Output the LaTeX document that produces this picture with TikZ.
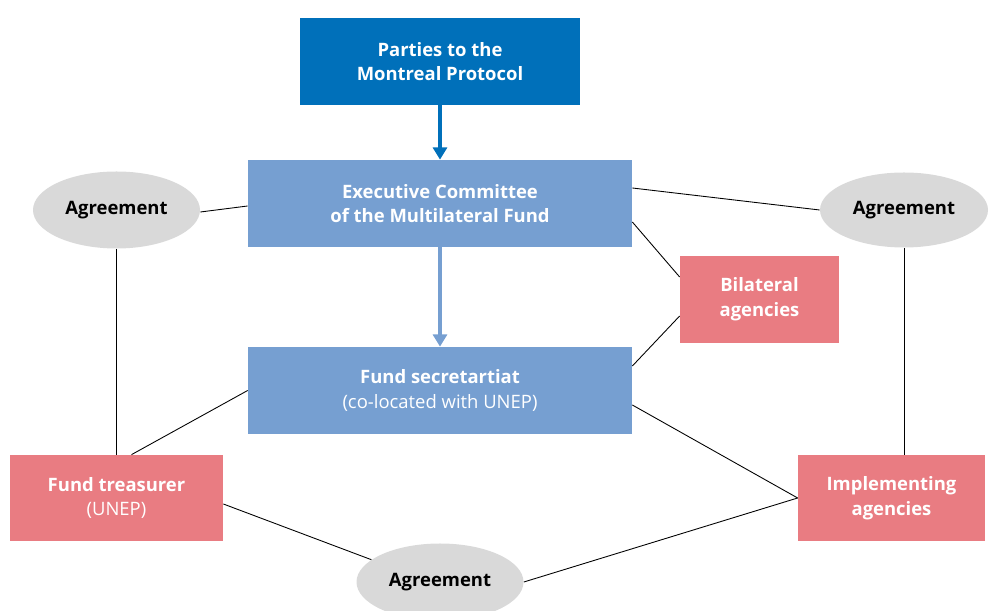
\documentclass[tikz,border=0pt]{standalone}
\usepackage{fontspec}
\setmainfont{Open Sans}
\usetikzlibrary{arrows.meta,shapes.geometric}

\definecolor{mpdark}{HTML}{0070BA}
\definecolor{mplight}{HTML}{769FD1}
\definecolor{mppink}{HTML}{E97C82}
\definecolor{mpgray}{HTML}{D9D9D9}

\tikzset{
    box/.style={minimum height=1.74cm, align=center, text=white, font=\bfseries\fontsize{10.5}{14}\selectfont, inner sep=0pt},
    agreement/.style={ellipse, fill=mpgray, minimum width=3.34cm, minimum height=1.54cm, inner sep=0pt, font=\bfseries\fontsize{10.5}{14}\selectfont},
    link/.style={line width=0.5pt},
}

\begin{document}
\begin{tikzpicture}
    \useasboundingbox (0, 0) rectangle (19.96, -12.22);
    \clip (0, 0) rectangle (19.96, -12.22);

    \node[box, fill=mpdark, minimum width=5.6cm] (parties) at (8.8, -1.23) {Parties to the\\Montreal Protocol};
    \node[box, fill=mplight, minimum width=7.68cm] (excom) at (8.8, -4.07) {Executive Committee\\of the Multilateral Fund};
    \node[box, fill=mplight, minimum width=7.68cm] (secretariat) at (8.8, -7.81) {Fund secretartiat\\\mdseries(co-located with UNEP)};
    \node[box, fill=mppink, minimum width=3.18cm] (bilateral) at (15.19, -5.99) {Bilateral\\agencies};
    \node[box, fill=mppink, minimum width=4.26cm, minimum height=1.72cm] (treasurer) at (2.33, -9.96) {Fund treasurer\\\mdseries(UNEP)};
    \node[box, fill=mppink, minimum width=3.74cm, minimum height=1.72cm] (implementing) at (17.83, -9.96) {Implementing\\agencies};

    \node[agreement] (agrleft) at (2.33, -4.2) {Agreement};
    \node[agreement, minimum width=3.36cm, minimum height=1.5cm] (agrright) at (18.08, -4.2) {Agreement};
    \node[agreement] (agrbottom) at (8.8, -11.64) {Agreement};

    \draw[mpdark, line width=2pt, -{Triangle[width=8pt, length=7pt]}] (parties) -- (excom);
    \draw[mplight, line width=2pt, -{Triangle[width=8pt, length=7pt]}] (excom) -- (secretariat);

    \draw[link] ([yshift=-0.04cm]agrleft.east) -- ([yshift=-0.05cm]excom.west);
    \draw[link] (agrleft) -- (treasurer);
    \draw[link] ([yshift=0.31cm]excom.east) -- (agrright.west);
    \draw[link] ([yshift=-0.37cm]excom.east) -- ([yshift=0.45cm]bilateral.west);
    \draw[link] ([yshift=0.49cm]secretariat.east) -- ([yshift=-0.33cm]bilateral.west);
    \draw[link] (secretariat.west) -- ([xshift=0.3cm]treasurer.north);
    \draw[link] ([yshift=-0.29cm]secretariat.east) -- (implementing.west);
    \draw[link] (agrright.south) -- (agrright.south |- implementing.north);
    \draw[link] ([yshift=-0.12cm]treasurer.east) -- (agrbottom.162);
    \draw[link] (agrbottom.east) -- (implementing.west);
\end{tikzpicture}
\end{document}
